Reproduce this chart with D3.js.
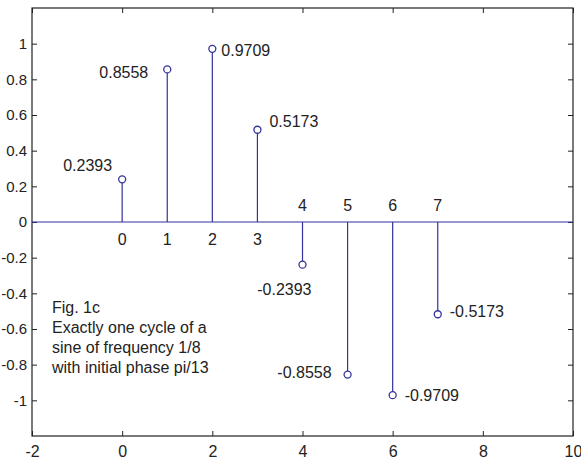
<!DOCTYPE html>
<html>
<head>
<meta charset="utf-8">
<script src="https://cdn.jsdelivr.net/npm/d3@7"></script>
<style>
  html, body { margin: 0; padding: 0; background: #fff; }
  svg text { font-family: "Liberation Sans", Arial, sans-serif; fill: #222; }
</style>
</head>
<body>
<svg id="chart" width="581" height="463"></svg>
<script>
// Sample index n and one cycle of sin(2*pi*n/8 + pi/13)
const sampleIndex = [0, 1, 2, 3, 4, 5, 6, 7];
const sampleValue = [0.2393, 0.8558, 0.9709, 0.5173, -0.2393, -0.8558, -0.9709, -0.5173];
const valueLabels = ["0.2393", "0.8558", "0.9709", "0.5173", "-0.2393", "-0.8558", "-0.9709", "-0.5173"];
const xTicks = [-2, 0, 2, 4, 6, 8, 10];
const yTicks = [-1, -0.8, -0.6, -0.4, -0.2, 0, 0.2, 0.4, 0.6, 0.8, 1];
const noteLines = ["Fig. 1c", "Exactly one cycle of a", "sine of frequency 1/8", "with initial phase pi/13"];

// Placement of each value label relative to its marker: [dx, dy, anchor]
const labelPlacement = [
  [-10, -14, "end"], [-19, 3, "end"], [9, 2, "start"], [12, -8, "start"],
  [9, 25, "end"], [-16, -2, "end"], [12, 0, "start"], [12, -3, "start"]
];

const W = 581, H = 463;
const margin = { left: 32, right: 8, top: 8, bottom: 27 };
const stemColor = "#33339a";
const fontSize = 16;

const svg = d3.select("#chart");
const x = d3.scaleLinear().domain([-2, 10]).range([margin.left, W - margin.right]);
const y = d3.scaleLinear().domain([-1.2, 1.2]).range([H - margin.bottom, margin.top]);

const x0 = x.range()[0], x1 = x.range()[1];
const yTop = y.range()[1], yBot = y.range()[0];

// Axes with inward ticks on all four sides; labels use a plain hyphen minus
const tickLen = 5;
const plain = d => String(+(+d).toFixed(1));
svg.append("g").attr("class", "xaxis").attr("transform", `translate(0,${yBot})`)
  .call(d3.axisBottom(x).tickValues(xTicks).tickSize(-tickLen).tickPadding(10).tickFormat(plain))
  .call(g => g.select(".domain").remove());
svg.append("g").attr("transform", `translate(0,${yTop})`)
  .call(d3.axisTop(x).tickValues(xTicks).tickSize(-tickLen).tickFormat(""))
  .call(g => g.select(".domain").remove());
svg.append("g").attr("class", "yaxis").attr("transform", `translate(${x0},0)`)
  .call(d3.axisLeft(y).tickValues(yTicks).tickSize(-tickLen).tickPadding(5).tickFormat(plain))
  .call(g => g.select(".domain").remove());
svg.append("g").attr("transform", `translate(${x1},0)`)
  .call(d3.axisRight(y).tickValues(yTicks).tickSize(-tickLen).tickFormat(""))
  .call(g => g.select(".domain").remove());

svg.selectAll(".tick line").attr("stroke", "#222");
svg.selectAll(".tick text").attr("fill", "#222")
  .style("font-family", '"Liberation Sans", Arial, sans-serif');
svg.selectAll(".xaxis .tick text").attr("font-size", fontSize);
svg.selectAll(".yaxis .tick text").attr("font-size", 15);

// Plot box
svg.append("rect")
  .attr("x", x0).attr("y", yTop)
  .attr("width", x1 - x0).attr("height", yBot - yTop)
  .attr("fill", "none").attr("stroke", "#222").attr("stroke-width", 1.2);

// Baseline at zero
svg.append("line")
  .attr("x1", x0).attr("x2", x1)
  .attr("y1", y(0)).attr("y2", y(0))
  .attr("stroke", stemColor).attr("stroke-width", 1.2);

const pts = sampleIndex.map((n, i) => ({ n, v: sampleValue[i], label: valueLabels[i], place: labelPlacement[i] }));

// Stems
svg.append("g").selectAll("line").data(pts).join("line")
  .attr("x1", d => x(d.n)).attr("x2", d => x(d.n))
  .attr("y1", y(0)).attr("y2", d => y(d.v))
  .attr("stroke", stemColor).attr("stroke-width", 1.2);

// Open circle markers
svg.append("g").selectAll("circle").data(pts).join("circle")
  .attr("cx", d => x(d.n)).attr("cy", d => y(d.v)).attr("r", 3.5)
  .attr("fill", "#fff").attr("stroke", stemColor).attr("stroke-width", 1.3);

// Value labels
svg.append("g").selectAll("text").data(pts).join("text")
  .attr("x", d => x(d.n) + d.place[0])
  .attr("y", d => y(d.v) + d.place[1])
  .attr("text-anchor", d => d.place[2])
  .attr("dominant-baseline", "central")
  .attr("font-size", fontSize)
  .text(d => d.label);

// Index labels on the opposite side of the baseline from each stem
svg.append("g").selectAll("text").data(pts).join("text")
  .attr("x", d => x(d.n))
  .attr("y", d => y(0) + (d.v >= 0 ? 17 : -17))
  .attr("text-anchor", "middle")
  .attr("dominant-baseline", "central")
  .attr("font-size", fontSize)
  .text(d => d.n);

// Note block
svg.append("g").selectAll("text").data(noteLines).join("text")
  .attr("x", 52)
  .attr("y", (d, i) => 307 + i * 20)
  .attr("dominant-baseline", "central")
  .attr("font-size", fontSize)
  .text(d => d);
</script>
</body>
</html>
